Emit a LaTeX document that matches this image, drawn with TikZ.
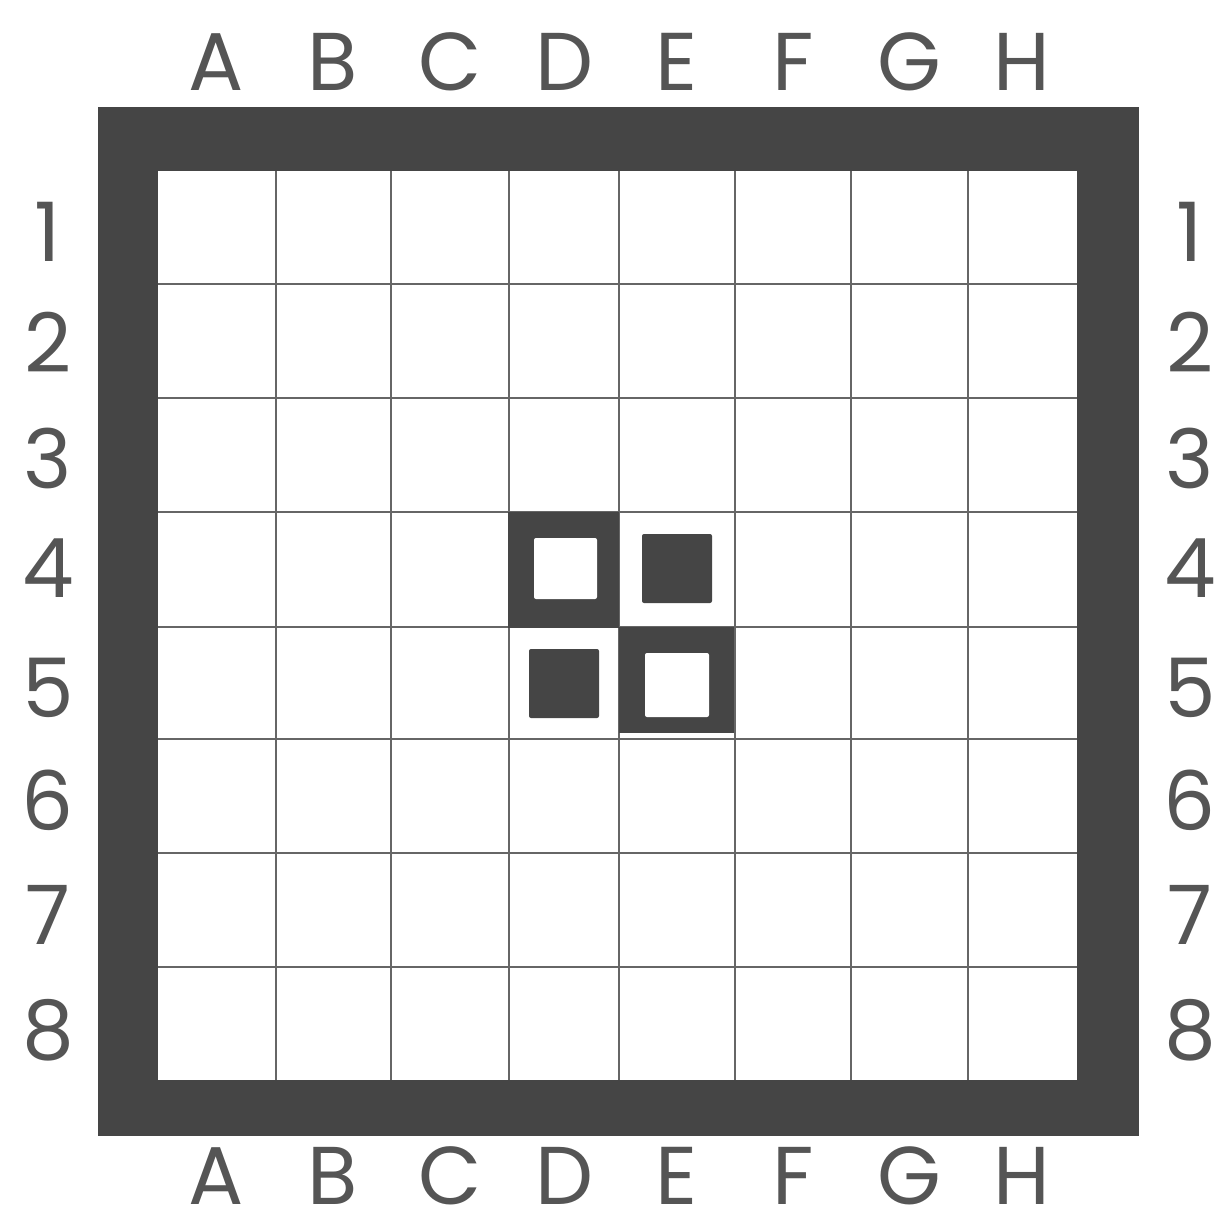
\documentclass[tikz,border=0pt]{standalone}
\usepackage{fontspec}
\setmainfont{Poppins}
\definecolor{framegray}{HTML}{454545}
\definecolor{linegray}{HTML}{666666}
\definecolor{textgray}{HTML}{555555}

\begin{document}
\begin{tikzpicture}[x=1pt, y=-1pt,
    frame/.style={fill=framegray, draw=none},
    board/.style={fill=white, draw=none},
    gridline/.style={draw=linegray, line width=2.8pt},
    coordlabel/.style={font=\fontsize{82}{86}\selectfont, text=textgray, inner sep=0pt},
    darkcell/.style={fill=framegray, draw=none},
    darkpiece/.style={fill=framegray, draw=none, rounded corners=2pt},
    lightpiece/.style={fill=white, draw=none, rounded corners=2pt},
]
\useasboundingbox (0,0) rectangle (1218,1215);

% Frame and playing area
\fill[frame] (98,107) rectangle (1139,1136);
\fill[board] (158,171) rectangle (1077,1080);

% Grid
\foreach \x in {276,391,509,619,735,851,968}
  \draw[gridline] (\x,171) -- (\x,1080);
\foreach \y in {284,398,512,627,739,853,967}
  \draw[gridline] (158,\y) -- (1077,\y);

% Centre: dark cells D4 and E5
\fill[darkcell] (508,512) rectangle (619,628);
\fill[darkcell] (619,627) rectangle (734,733);

% Pieces
\fill[lightpiece] (534,538) rectangle (597,599);
\fill[darkpiece] (642,534) rectangle (712,603);
\fill[darkpiece] (529,649) rectangle (599,718);
\fill[lightpiece] (645,653) rectangle (709,717);

% Column letters
\foreach \x/\col in {216/A,333/B,450/C,564/D,677/E,793/F,909/G,1022/H} {
  \node[coordlabel] (top\col) at (\x,62) {\col};
  \node[coordlabel] (bot\col) at (\x,1176) {\col};
}

% Row numbers
\foreach \y/\row in {232/1,342/2,458/3,568/4,688/5,800/6,915/7,1030/8} {
  \node[coordlabel] (left\row) at (48,\y) {\row};
  \node[coordlabel] (right\row) at (1190,\y) {\row};
}
\end{tikzpicture}
\end{document}
